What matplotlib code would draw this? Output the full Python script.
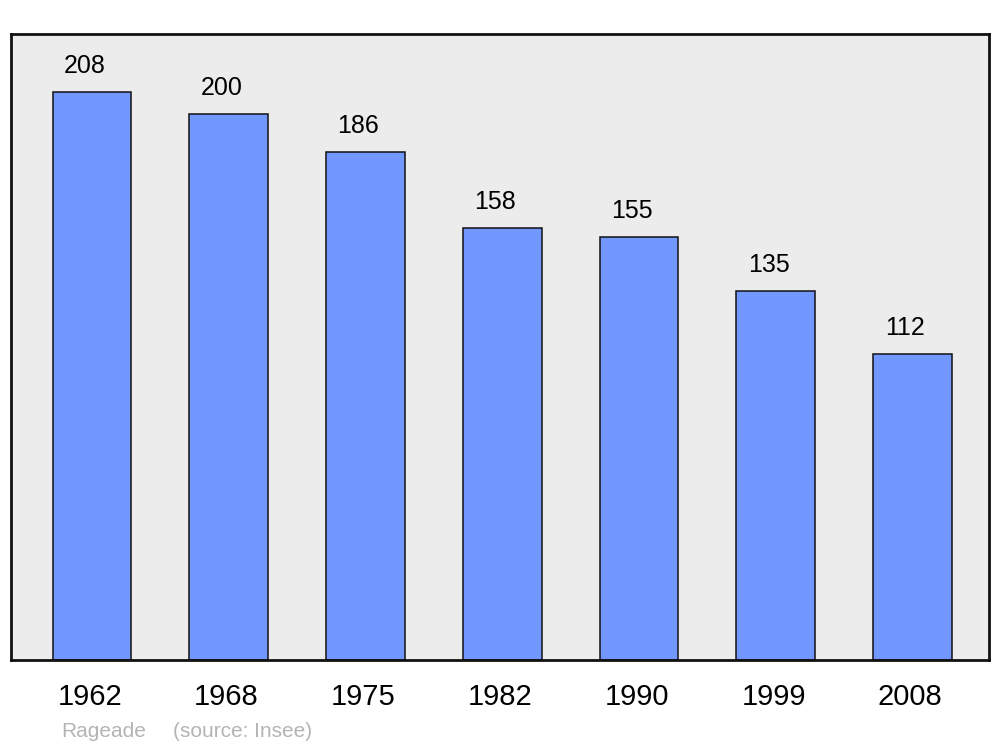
import matplotlib
matplotlib.use("Agg")
import matplotlib.pyplot as plt
from matplotlib.transforms import ScaledTranslation

years = ["1962", "1968", "1975", "1982", "1990", "1999", "2008"]
population = [208, 200, 186, 158, 155, 135, 112]

plt.rcParams['font.family'] = ['Liberation Sans', 'DejaVu Sans']

fig = plt.figure(figsize=(10, 7.47), dpi=100)
ax = fig.add_axes([11/1000, 1 - 660/747, 978/1000, 626/747])
ax.set_facecolor('#ECECEC')

x = list(range(len(years)))
bars = ax.bar(x, population, width=0.575, color='#7298FF', edgecolor='#111111',
              linewidth=1.1, zorder=2)
for xi, v in zip(x, population):
    ax.annotate(str(v), (xi, v), xytext=(-5, 13.7), textcoords='offset points',
                ha='center', va='baseline', fontsize=18, color='black')

ax.set_xlim(-0.592, 6.56)
ax.set_ylim(0, 229.2)
ax.set_xticks(x)
ax.set_xticklabels(years, fontsize=21)
ax.tick_params(axis='x', length=0, pad=16.5)
for lbl in ax.get_xticklabels():
    lbl.set_transform(lbl.get_transform() + ScaledTranslation(-1.5/72, 0, fig.dpi_scale_trans))
ax.set_yticks([])
for s in ax.spines.values():
    s.set_linewidth(2)
    s.set_color('#111111')

fig.text(61/1000, 1 - 737/747, "Rageade", fontsize=15, color='#B4B4B4', va='baseline', ha='left')
fig.text(173/1000, 1 - 737/747, "(source: Insee)", fontsize=15, color='#B4B4B4', va='baseline', ha='left')

fig.savefig("out.png", dpi=100)
